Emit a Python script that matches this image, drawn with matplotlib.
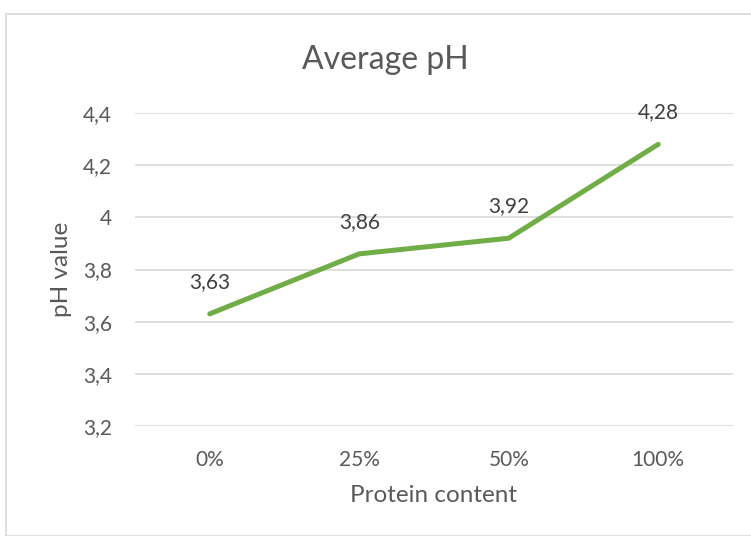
import matplotlib
matplotlib.use("Agg")
import matplotlib.pyplot as plt
from matplotlib.patches import Rectangle

categories = ["0%", "25%", "50%", "100%"]
ph_values = [3.63, 3.86, 3.92, 4.28]
y_ticks = [3.2, 3.4, 3.6, 3.8, 4.0, 4.2, 4.4]
y_tick_labels = ["3,2", "3,4", "3,6", "3,8", "4", "4,2", "4,4"]
data_labels = ["3,63", "3,86", "3,92", "4,28"]

W, H = 751, 536
fig = plt.figure(figsize=(W / 100, H / 100), dpi=100)
plt.rcParams['font.family'] = ['Lato', 'DejaVu Sans']
txt = '#595959'
grid = '#D9D9D9'

# chart border
fig.patches.append(Rectangle((6.5 / W, 0), 2, (H - 14) / H, transform=fig.transFigure,
                             fill=False, edgecolor=grid, linewidth=1.2))

ax_left, ax_right, ax_top, ax_bot = 135, 733, 113, 426
ax = fig.add_axes([ax_left / W, 1 - ax_bot / H, (ax_right - ax_left) / W, (ax_bot - ax_top) / H])
x = list(range(len(categories)))
ax.plot(x, ph_values, color='#70AD47', linewidth=3.6, solid_capstyle='round', zorder=3)
for xi, v, lab in zip(x, ph_values, data_labels):
    ax.annotate(lab, (xi, v), xytext=(0, 23), textcoords='offset points',
                ha='center', va='center', fontsize=15, color='#404040')

ax.set_xlim(-0.5, len(categories) - 0.5)
ax.set_ylim(3.2, 4.4)
ax.set_yticks(y_ticks)
ax.set_yticklabels(y_tick_labels)
ax.set_xticks(x)
ax.set_xticklabels(categories)
ax.tick_params(axis='both', length=0, labelsize=15, labelcolor=txt)
ax.tick_params(axis='y', pad=16.5)
ax.tick_params(axis='x', pad=17)
ax.grid(axis='y', color=grid, linewidth=1.2)
ax.set_axisbelow(True)
for s in ax.spines.values():
    s.set_visible(False)

ax.set_ylabel('pH value', fontsize=17.5, color=txt)
ax.set_xlabel('Protein content', fontsize=17.5, color=txt)
ax.yaxis.set_label_coords((62 - ax_left) / (ax_right - ax_left), 0.5)
ax.yaxis.label.set_va('center')
ax.xaxis.set_label_coords(0.5, (ax_bot - 496) / (ax_bot - ax_top))
ax.xaxis.label.set_va('center')
fig.text(385 / W, 1 - 60 / H, 'Average pH', ha='center', va='center', fontsize=23, color=txt)

fig.savefig('out.png', dpi=100)
